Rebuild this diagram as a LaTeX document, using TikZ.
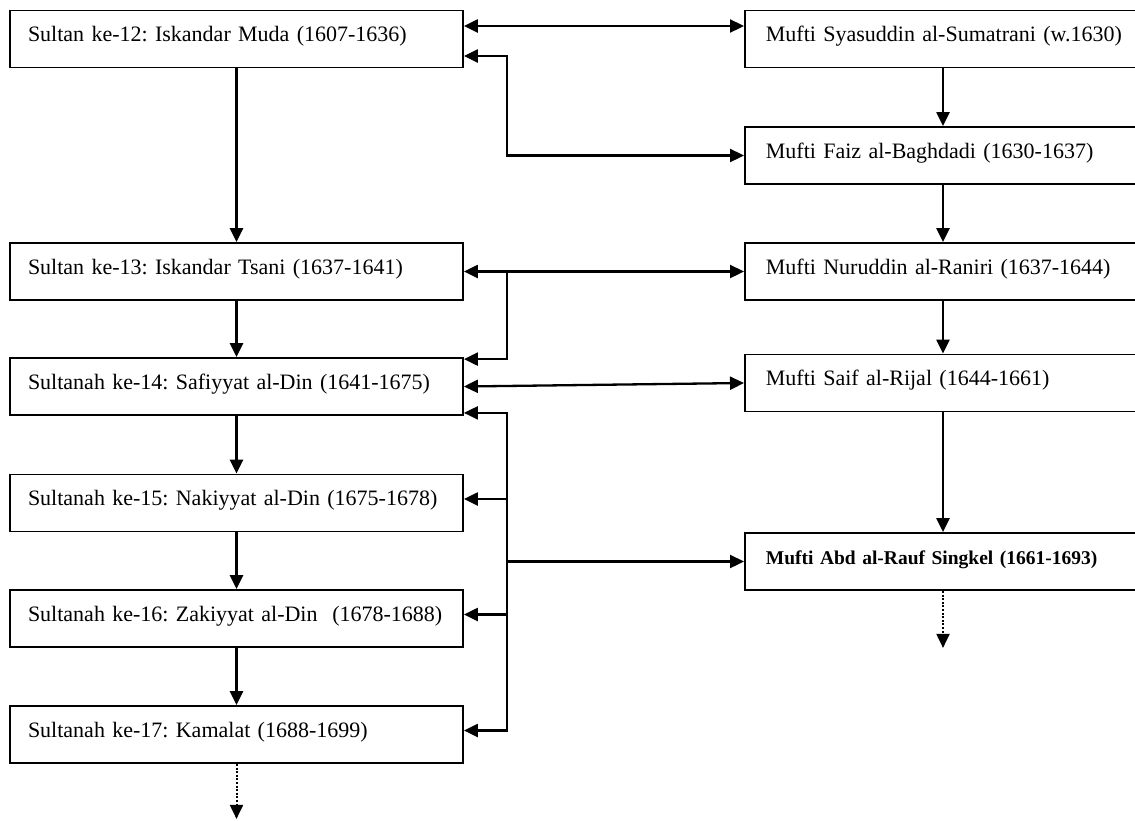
\documentclass[tikz,border=0pt]{standalone}
\usepackage{fontspec}
\setmainfont{Liberation Serif}
\usetikzlibrary{arrows.meta,calc}
\frenchspacing

\begin{document}
\begin{tikzpicture}
[x = 1pt, y = -1pt, line width = 2.3pt, >={Triangle[length=14pt,width=13pt]},
 sultan/.style = {shape = rectangle, draw, line width = 1.8pt, align = left, inner xsep = 18pt, inner ysep = 0pt,
                  text width = 417pt, text height = 31pt, text depth = 26pt, font = \fontsize{22}{26}\selectfont},
 mufti/.style = {sultan, anchor = west, inner xsep = 21pt, text width = 380pt},
 later/.style = {->, line width = 2pt, dash pattern = on 2pt off 1.6pt}]
\useasboundingbox (0,0) rectangle (1135,820);
\node[sultan] (s12) at (236.5,39)    {Sultan ke-12: Iskandar Muda (1607-1636)};
\node[sultan] (s13) at (236.5,271.5) {Sultan ke-13: Iskandar Tsani (1637-1641)};
\node[sultan] (s14) at (236.5,386.5) {Sultanah ke-14: Safiyyat al-Din (1641-1675)};
\node[sultan] (s15) at (236.5,503)   {Sultanah ke-15: Nakiyyat al-Din (1675-1678)};
\node[sultan] (s16) at (236.5,618.5) {Sultanah ke-16: Zakiyyat al-Din~ (1678-1688)};
\node[sultan] (s17) at (236.5,734.5) {Sultanah ke-17: Kamalat (1688-1699)};
\node[mufti] (m1) at (744,39)    {Mufti Syasuddin al-Sumatrani (w.1630)};
\node[mufti] (m2) at (744,155.5) {Mufti Faiz al-Baghdadi (1630-1637)};
\node[mufti] (m3) at (744,271.5) {Mufti Nuruddin al-Raniri (1637-1644)};
\node[mufti] (m4) at (744,383)   {Mufti Saif al-Rijal (1644-1661)};
\node[mufti, font = \bfseries\fontsize{19.5}{24}\selectfont] (m5) at (744,561.5) {Mufti Abd al-Rauf Singkel (1661-1693)};
\coordinate (bus) at (507,0);
\coordinate (mcol) at (943,0);
\coordinate (m5next) at ($(mcol |- m5.south)+(0,57)$);
\coordinate (s17next) at ($(s17.south)+(0,55)$);

\draw[->] (s12.south) -- (s13.north);
\draw[->] (s13.south) -- (s14.north);
\draw[->] (s14.south) -- (s15.north);
\draw[->] (s15.south) -- (s16.north);
\draw[->] (s16.south) -- (s17.north);
\draw[->] (mcol |- m1.south) -- (mcol |- m2.north);
\draw[->] (mcol |- m2.south) -- (mcol |- m3.north);
\draw[->] (mcol |- m3.south) -- (mcol |- m4.north);
\draw[->] (mcol |- m4.south) -- (mcol |- m5.north);

\draw[<->] ($(s12.east)+(0,-13)$) -- ($(s12.east -| m1.west)+(0,-13)$);
\draw[<->] ($(s12.east)+(0,17)$) -| (bus |- m2.west) -- (m2.west);
\draw[<->] (s13.east) -- (m3.west);
\draw[->] (bus |- s13.east) |- ($(s14.north east)+(0,2)$);
\draw[<->] (s14.east) -- (m4.west);
\draw[<->] ($(s14.south east)+(0,-3)$) -| ($(bus |- s17.east)+(0,-4)$) -- ($(s17.east)+(0,-4)$);
\draw[->] ($(bus |- s15.east)+(0,-4)$) -- ($(s15.east)+(0,-4)$);
\draw[->] ($(bus |- s16.east)+(0,-4)$) -- ($(s16.east)+(0,-4)$);
\draw[->] (bus |- m5.west) -- (m5.west);

\draw[later] (mcol |- m5.south) -- (m5next);
\draw[later] (s17.south) -- (s17next);
\end{tikzpicture}
\end{document}
